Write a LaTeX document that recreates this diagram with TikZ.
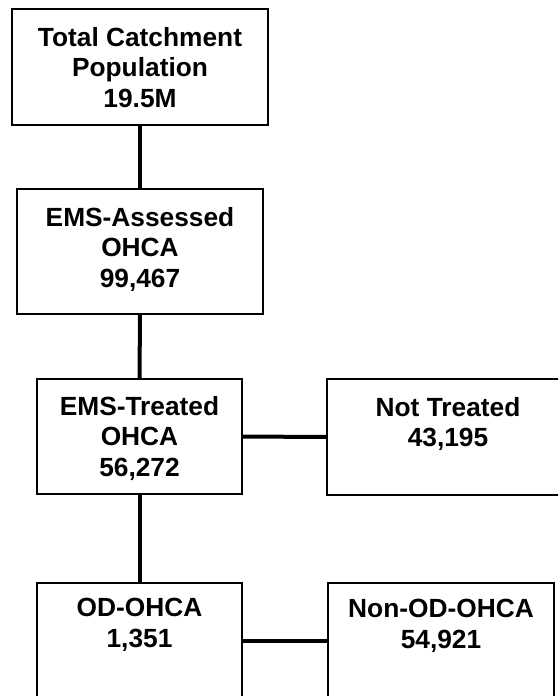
\documentclass[tikz,border=0pt]{standalone}
\usepackage{fontspec}
\setmainfont{Liberation Sans}
\begin{document}
\begin{tikzpicture}[x=1pt,y=-1pt,
  box/.style={draw=black, line width=1.9pt, fill=white, inner sep=0pt, outer sep=0pt},
  txt/.style={anchor=north, inner sep=0pt, align=center, font=\bfseries\fontsize{26.3}{30.5}\selectfont},
  link/.style={draw=black, line width=4pt}]
\useasboundingbox (0,0) rectangle (558,696);
\fill[white] (0,0) rectangle (558,696);
\clip (0,0) rectangle (558,696);
% boxes
\node[box, minimum width=256pt, minimum height=116pt] (b1) at (140,67) {};
\node[box, minimum width=246pt, minimum height=125pt] (b2) at (140,251.5) {};
\node[box, minimum width=205pt, minimum height=115pt] (b3) at (139.5,436.5) {};
\node[box, minimum width=242pt, minimum height=116pt] (b4) at (448,437) {};
\node[box, minimum width=205pt, minimum height=115pt] (b5) at (139.5,640.5) {};
\node[box, minimum width=226pt, minimum height=115pt] (b6) at (441,640.5) {};
% connectors
\draw[link] (b1.south) -- (b2.north);
\draw[link] (b2.south) -- (b3.north);
\draw[link] (b3.south) -- (b5.north);
\draw[link] (b3.east) -- (b4.west);
\draw[link] (b5.east) -- (b6.west);
% texts
\node[txt] (t1) at (140,27) {Total Catchment\\Population\\19.5M};
\node[txt] (t2) at (140,207) {EMS-Assessed\\OHCA\\99,467};
\node[txt] (t3) at (139.5,396) {EMS-Treated\\OHCA\\56,272};
\node[txt] (t4) at (448,397) {Not Treated\\43,195};
\node[txt] (t5) at (139.5,598) {OD-OHCA\\1,351};
\node[txt] (t6) at (441,599) {Non-OD-OHCA\\54,921};
\end{tikzpicture}
\end{document}
